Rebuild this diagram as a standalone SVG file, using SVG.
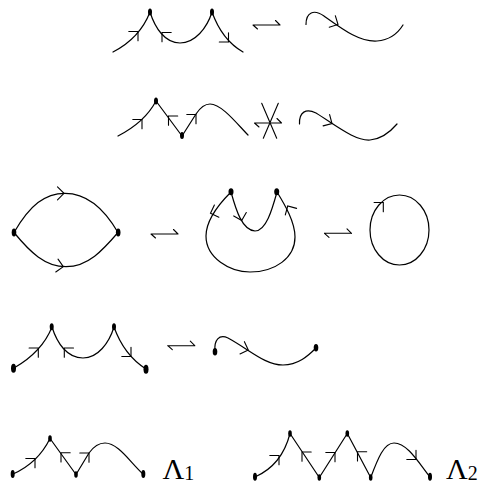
<svg xmlns="http://www.w3.org/2000/svg" xmlns:xlink="http://www.w3.org/1999/xlink" width="481" height="485" viewBox="0 0 481 485">
<style>
.c{fill:none;stroke:#000;stroke-width:1.2;stroke-linecap:round;stroke-linejoin:round}
.a{fill:none;stroke:#000;stroke-width:1.1;stroke-linecap:round;stroke-linejoin:miter}
.d{fill:#000;stroke:none}
.t{font-family:"Liberation Serif","Times New Roman",serif;fill:#000}
</style>
<defs>
<path id="ah" class="a" d="M-6.5,-6.5 L0,0 L-6.5,6.5"/>
<path id="hp" class="a" d="M-13.5,0 L13.5,0 M13.5,0 L9,-4.5 M-13.5,0 L-9,4"/>
</defs>
<rect width="481" height="485" fill="#fff"/>

<g id="row1-left">
<path class="c" d="M113,52 Q140,38 150,12 C155,28 165,43 180,43 C195,43 207,28 212,12 Q222,40 243,52"/>
<ellipse class="d" cx="150" cy="12" rx="2" ry="3.5"/>
<ellipse class="d" cx="212" cy="12" rx="2" ry="3.5"/>
<use xlink:href="#ah" transform="translate(138,31.5) rotate(-45)"/>
<use xlink:href="#ah" transform="translate(162,32.5) rotate(-135)"/>
<use xlink:href="#ah" transform="translate(228.5,42) rotate(45)"/>
</g>
<g id="row1-rel"><use xlink:href="#hp" transform="translate(266.5,25)"/></g>
<g id="row1-right">
<path class="c" d="M306,24.5 C306,12 314,9 324,16 C345,31 360,42 377,41 C390,40 398,33 403,25"/>
<use xlink:href="#ah" transform="translate(338,24.5) rotate(28)"/>
</g>

<g id="row2-left">
<path class="c" d="M118,136 Q145,122 156,101 L182,136 L196,114 C200,108 204,104 210,104 C222,104 238,125 248,135"/>
<ellipse class="d" cx="156" cy="101" rx="2" ry="3.5"/>
<ellipse class="d" cx="182" cy="135.5" rx="2" ry="3.5"/>
<use xlink:href="#ah" transform="translate(142,119.5) rotate(-45)"/>
<use xlink:href="#ah" transform="translate(168.5,116) rotate(-135)"/>
<use xlink:href="#ah" transform="translate(196,114.5) rotate(-45)"/>
</g>
<g id="row2-rel">
<use xlink:href="#hp" transform="translate(268,123)"/>
<path class="a" d="M261.7,103.3 L276.7,138.3 M278.3,103.3 L263.3,138.3"/>
</g>
<g id="row2-right">
<path class="c" d="M299.5,124 C299,112 306,108 316,113 C337,126 355,141 370,140 C383,139 391,131 397,124"/>
<use xlink:href="#ah" transform="translate(332,123.5) rotate(30)"/>
</g>

<g id="row3-lens">
<path class="c" d="M14,232.5 C30,205 45,193.3 65,193.3 C88,193.3 105,210 118,232.5"/>
<path class="c" d="M14,232.5 C30,252 45,266.7 66,266.7 C88,266.7 103,250 118,232.5"/>
<ellipse class="d" cx="14" cy="232.5" rx="2.3" ry="4"/>
<ellipse class="d" cx="118.2" cy="232.5" rx="2.3" ry="4"/>
<use xlink:href="#ah" transform="translate(64,193.3)"/>
<use xlink:href="#ah" transform="translate(63.3,266.7) rotate(10)"/>
</g>
<g id="row3-rel1"><use xlink:href="#hp" transform="translate(164.5,234)"/></g>
<g id="row3-mid">
<path class="c" d="M231,192 C236,210 242,230 255,231 C266,231 272,210 277,192"/>
<path class="c" d="M231,192 C218,205 206,220 206,236 C206,258 230,272 250,272 C275,272 295,258 295,237 C295,222 285,205 277,192"/>
<ellipse class="d" cx="231" cy="191.7" rx="2.5" ry="3.5"/>
<ellipse class="d" cx="276.7" cy="191.7" rx="2.5" ry="3.5"/>
<use xlink:href="#ah" transform="translate(241.7,220.5) rotate(75)"/>
<use xlink:href="#ah" transform="translate(210.5,213.3) rotate(160)"/>
<use xlink:href="#ah" transform="translate(287.7,206) rotate(-120)"/>
</g>
<g id="row3-rel2"><use xlink:href="#hp" transform="translate(338,233.3)"/></g>
<g id="row3-circle">
<ellipse class="c" cx="399.5" cy="230" rx="29.5" ry="35"/>
<use xlink:href="#ah" transform="translate(383.3,202.5) rotate(-45)"/>
</g>

<g id="row4-left">
<path class="c" d="M14,368 Q42,352 52,327 C57,343 67,358 83,358 C98,358 109,343 114,327 Q124,355 146,369"/>
<ellipse class="d" cx="13.5" cy="368.3" rx="2.5" ry="4.5"/>
<ellipse class="d" cx="51.7" cy="326.7" rx="2" ry="3.5"/>
<ellipse class="d" cx="114" cy="326.7" rx="2" ry="3.5"/>
<ellipse class="d" cx="146" cy="369.3" rx="2.5" ry="4.5"/>
<use xlink:href="#ah" transform="translate(38.3,348) rotate(-45)"/>
<use xlink:href="#ah" transform="translate(64.3,348) rotate(-135)"/>
<use xlink:href="#ah" transform="translate(131,356.5) rotate(45)"/>
</g>
<g id="row4-rel"><use xlink:href="#hp" transform="translate(181.3,345.7)"/></g>
<g id="row4-right">
<path class="c" d="M215,351 C214,340 219,334 228,338 C250,350 265,365 283,365 C298,365 308,356 316,348"/>
<ellipse class="d" cx="215" cy="351.7" rx="2.3" ry="3.8"/>
<ellipse class="d" cx="316" cy="347.7" rx="2.3" ry="3.8"/>
<use xlink:href="#ah" transform="translate(248.3,350) rotate(20)"/>
</g>

<g id="lambda1">
<path class="c" d="M13,474 Q38,463 50,438.5 L76,474.5 L89,453 C94,446 99,443 105,443 C118,443 130,462 143,474"/>
<ellipse class="d" cx="12.7" cy="474" rx="2" ry="4"/>
<ellipse class="d" cx="50" cy="438.5" rx="1.8" ry="3.3"/>
<ellipse class="d" cx="76" cy="474.5" rx="1.8" ry="3.3"/>
<ellipse class="d" cx="143.3" cy="474" rx="2" ry="4"/>
<use xlink:href="#ah" transform="translate(35,458.5) rotate(-45)"/>
<use xlink:href="#ah" transform="translate(61,452.7) rotate(-135)"/>
<use xlink:href="#ah" transform="translate(89,453) rotate(-45)"/>
<text class="t" x="162.5" y="478.5" font-size="30">Λ<tspan font-size="20" dy="1.5">1</tspan></text>
</g>

<g id="lambda2">
<path class="c" d="M255,477 Q282,465 290,433.5 L319.3,477.5 L347.3,433.5 L370.7,477.5 C378,458 384,443 394,443 C408,443 420,465 430,477"/>
<ellipse class="d" cx="255" cy="476.7" rx="2" ry="4"/>
<ellipse class="d" cx="290" cy="433.5" rx="1.8" ry="3.3"/>
<ellipse class="d" cx="319.3" cy="477.5" rx="1.8" ry="3.3"/>
<ellipse class="d" cx="347.3" cy="433.5" rx="1.8" ry="3.3"/>
<ellipse class="d" cx="370.7" cy="477.5" rx="1.8" ry="3.3"/>
<ellipse class="d" cx="430" cy="476.7" rx="2" ry="4"/>
<use xlink:href="#ah" transform="translate(279,455.5) rotate(-45)"/>
<use xlink:href="#ah" transform="translate(302,452) rotate(-135)"/>
<use xlink:href="#ah" transform="translate(335,452.5) rotate(-45)"/>
<use xlink:href="#ah" transform="translate(357.5,451.7) rotate(-135)"/>
<use xlink:href="#ah" transform="translate(416,459.5) rotate(45)"/>
<text class="t" x="446" y="478.5" font-size="30">Λ<tspan font-size="20" dy="1.5">2</tspan></text>
</g>
</svg>
